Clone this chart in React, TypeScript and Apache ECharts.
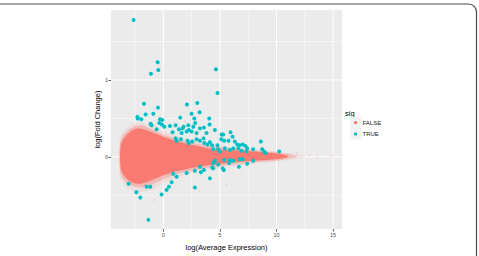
import React, { useEffect, useRef } from "react";
import * as echarts from "echarts";

// TRUE (significant) points: [log(Average Expression), log(Fold Change)]
const trueX = [
  -2.62, -0.5, -0.44, -1.09, 4.65, 4.79, -1.71, -0.47, 2.09, 3.0, 2.5, 3.21, -2.29, -2.26, -1.94, -1.56,
  -0.88, -0.29, -0.09, 1.5, 2.74, 4.06, -1.12, -1.03, -0.35, -0.12, 0.09, -0.59, 0.59, 1.09, 1.38, 1.71,
  1.79, 2.26, 2.21, 2.65, 2.82, 3.24, 3.59, 4.09, 4.56, 0.82, 1.62, 2.06, 2.5, 2.94, 3.82, 1.09, 1.18,
  1.56, 2.15, 2.24, 2.56, 2.94, 3.24, 3.56, 3.62, 3.91, 4.12, 4.32, 4.79, 4.41, 5.15, 5.29, 5.94, 5.12,
  5.38, 5.76, 6.12, 6.32, 6.53, 6.76, 7.03, 7.26, 7.41, 4.85, 5.0, 5.44, 5.88, 6.18, 6.62, 6.91, 7.35,
  7.94, 8.62, 8.74, 8.91, 9.03, 10.24, 5.38, 5.88, 6.18, 6.76, 7.0, 7.41, 7.94, 4.41, 4.56, 4.85, 5.24,
  5.35, 5.82, 6.68, 3.24, 3.59, 3.32, 4.32, 4.41, 4.12, 2.06, 2.79, 2.79, 0.88, 1.18, 0.74, 0.5, 0.29,
  -0.15, -3.06, -2.38, -2.03, -1.47, -1.15, -1.32,
];
const trueY = [
  1.78, 1.23, 1.13, 1.08, 1.14, 0.83, 0.69, 0.64, 0.68, 0.7, 0.56, 0.58, 0.52, 0.5, 0.49, 0.55,
  0.56, 0.49, 0.48, 0.51, 0.5, 0.5, 0.43, 0.41, 0.44, 0.42, 0.39, 0.36, 0.4, 0.41, 0.36, 0.37,
  0.39, 0.35, 0.41, 0.39, 0.44, 0.37, 0.38, 0.42, 0.35, 0.32, 0.31, 0.33, 0.33, 0.31, 0.31, 0.24, 0.21,
  0.23, 0.21, 0.18, 0.2, 0.23, 0.21, 0.24, 0.18, 0.16, 0.19, 0.15, 0.15, 0.1, 0.29, 0.29, 0.32, 0.23,
  0.21, 0.21, 0.26, 0.2, 0.16, 0.15, 0.16, 0.14, 0.11, 0.1, 0.07, 0.11, 0.09, 0.11, 0.11, 0.08, 0.07,
  0.1, 0.2, 0.1, 0.07, 0.05, 0.07, -0.04, -0.04, -0.05, -0.03, -0.03, -0.09, -0.05, -0.08, -0.05, -0.1, -0.15,
  -0.17, -0.08, -0.13, -0.13, -0.17, -0.2, -0.14, -0.15, -0.28, -0.21, -0.18, -0.4, -0.22, -0.26, -0.33, -0.39, -0.43,
  -0.49, -0.35, -0.46, -0.53, -0.39, -0.39, -0.82,
];

// FALSE cloud envelopes (dense core, soft edge, faint fringe)
const coreX = [-3.82, -3.75, -3.55, -3.2, -2.8, -2.4, -2.0, -1.5, -1.0, 0, 1, 2, 3, 4, 5, 6, 7, 8, 9, 10, 10.6, 11.0];
const coreUpper = [0.06, 0.16, 0.23, 0.29, 0.34, 0.37, 0.37, 0.35, 0.32, 0.26, 0.21, 0.17, 0.14, 0.11, 0.09, 0.085, 0.08, 0.07, 0.06, 0.045, 0.03, 0.01];
const coreLower = [-0.06, -0.16, -0.23, -0.29, -0.33, -0.35, -0.35, -0.33, -0.3, -0.24, -0.19, -0.16, -0.13, -0.11, -0.09, -0.07, -0.06, -0.05, -0.04, -0.03, -0.02, -0.005];

const edgeX = [-3.88, -3.8, -3.55, -3.1, -2.5, -1.8, -1.0, 0, 1, 2, 4, 6, 8, 10, 11.2, 11.8];
const edgeUpper = [0.06, 0.2, 0.28, 0.35, 0.4, 0.41, 0.36, 0.29, 0.24, 0.2, 0.14, 0.11, 0.085, 0.06, 0.03, 0.01];
const edgeLower = [-0.06, -0.21, -0.29, -0.35, -0.39, -0.4, -0.36, -0.29, -0.23, -0.19, -0.14, -0.1, -0.07, -0.05, -0.02, -0.005];

const fringeX = [-3.95, -3.85, -3.4, -2.8, -2.0, -1.0, 0, 1, 2, 4, 6, 8, 10, 11.5, 12.5];
const fringeUpper = [0.05, 0.25, 0.36, 0.43, 0.45, 0.41, 0.34, 0.28, 0.24, 0.17, 0.13, 0.1, 0.07, 0.04, 0.015];
const fringeLower = [-0.05, -0.27, -0.38, -0.44, -0.46, -0.43, -0.35, -0.28, -0.23, -0.17, -0.12, -0.09, -0.06, -0.03, -0.01];

// A few faint FALSE outliers
const falseOutX = [12.9, 13.6, 14.9, 11.8, 3.2, 5.6, -0.8, 1.9];
const falseOutY = [0.02, -0.01, 0.01, 0.05, -0.44, -0.36, -0.56, 0.46];

// axis ticks & grid
const xTicks = [0, 5, 10, 15];
const xMinor = [-2.5, 2.5, 7.5, 12.5];
const yTicks = [0, 1];
const yMinor = [-0.5, 0.5, 1.5];

const PINK = "#F8766D";
const TEAL = "#00BFC4";
const FONT = "Liberation Sans, Arial, sans-serif";

function envelope(xs: number[], up: number[], lo: number[], color: string, opacity: number, z: number) {
  return {
    type: "custom",
    silent: true,
    z,
    clip: true,
    data: xs.map((x, i) => [x, up[i], lo[i]]),
    encode: { x: 0, y: [1, 2] },
    renderItem: (params: any, api: any) => {
      if (params.dataIndex !== 0) return null;
      const top = xs.map((x, i) => api.coord([x, up[i]]));
      const bot = xs.map((x, i) => api.coord([x, lo[i]])).reverse();
      return {
        type: "polygon",
        shape: { points: top.concat(bot) },
        style: { fill: color, opacity },
      };
    },
  };
}

function gridLines(values: number[], vertical: boolean, width: number) {
  return {
    type: "custom",
    silent: true,
    z: 0,
    data: values.map((v) => (vertical ? [v, 0] : [0, v])),
    encode: { x: 0, y: 1 },
    renderItem: (params: any, api: any) => {
      const cs = params.coordSys;
      const p = api.coord([api.value(0), api.value(1)]);
      const shape = vertical
        ? { x1: p[0], y1: cs.y, x2: p[0], y2: cs.y + cs.height }
        : { x1: cs.x, y1: p[1], x2: cs.x + cs.width, y2: p[1] };
      return { type: "line", shape, style: { stroke: "#FFFFFF", lineWidth: width } };
    },
  };
}

export default function App() {
  const ref = useRef<HTMLDivElement>(null);
  useEffect(() => {
    if (!ref.current) return;
    const chart = echarts.init(ref.current, null, { renderer: "svg" });
    chart.setOption({
      animation: false,
      backgroundColor: "#FFFFFF",
      textStyle: { fontFamily: FONT },
      grid: {
        left: 111,
        top: 10,
        width: 231,
        height: 227.5,
        show: true,
        backgroundColor: "#EBEBEB",
        borderWidth: 0,
        containLabel: false,
      },
      xAxis: {
        type: "value",
        min: -4.62,
        max: 15.79,
        name: "log(Average Expression)",
        nameLocation: "middle",
        nameGap: 9,
        nameTextStyle: { fontSize: 7.5, color: "#000", fontFamily: FONT },
        axisLine: { show: false, onZero: false },
        splitLine: { show: false },
        axisTick: { show: true, length: 2.5, lineStyle: { color: "#333", width: 0.8 }, customValues: xTicks },
        axisLabel: { fontSize: 5.5, color: "#4D4D4D", margin: 3, customValues: xTicks, fontFamily: FONT },
      },
      yAxis: {
        type: "value",
        min: -0.94,
        max: 1.91,
        name: "log(Fold Change)",
        nameLocation: "middle",
        nameGap: 8,
        nameTextStyle: { fontSize: 7.5, color: "#000", fontFamily: FONT },
        axisLine: { show: false, onZero: false },
        splitLine: { show: false },
        axisTick: { show: true, length: 2.5, lineStyle: { color: "#333", width: 0.8 }, customValues: yTicks },
        axisLabel: { fontSize: 5.5, color: "#4D4D4D", margin: 3, customValues: yTicks, fontFamily: FONT },
      },
      series: [
        gridLines(xMinor, true, 0.5),
        gridLines(yMinor, false, 0.5),
        gridLines(xTicks, true, 1),
        gridLines(yTicks, false, 1),
        envelope(fringeX, fringeUpper, fringeLower, PINK, 0.12, 2),
        envelope(edgeX, edgeUpper, edgeLower, PINK, 0.35, 3),
        envelope(coreX, coreUpper, coreLower, PINK, 0.95, 4),
        {
          type: "scatter",
          name: "FALSE",
          z: 2,
          silent: true,
          symbolSize: 2.5,
          itemStyle: { color: PINK, opacity: 0.2 },
          data: falseOutX.map((x, i) => [x, falseOutY[i]]),
        },
        {
          type: "scatter",
          name: "TRUE",
          z: 5,
          silent: true,
          symbolSize: 4,
          itemStyle: { color: TEAL, opacity: 1 },
          data: trueX.map((x, i) => [x, trueY[i]]),
        },
      ],
      graphic: [
        {
          type: "rect",
          silent: true,
          shape: { x: -20, y: 4, width: 496.5, height: 300, r: 8 },
          style: { fill: "none", stroke: "#4A4A4A", lineWidth: 1.2 },
        },
        {
          type: "text",
          left: 345,
          top: 109,
          style: { text: "sig", fontSize: 7.5, fill: "#000", fontFamily: FONT },
        },
        {
          type: "rect",
          silent: true,
          shape: { x: 350, y: 117, width: 11, height: 22.5 },
          style: { fill: "#F2F2F2" },
        },
        { type: "circle", silent: true, shape: { cx: 355.5, cy: 122.7, r: 1.6 }, style: { fill: PINK } },
        { type: "circle", silent: true, shape: { cx: 355.5, cy: 134, r: 1.6 }, style: { fill: TEAL } },
        {
          type: "text",
          x: 362.5,
          y: 122.7,
          style: { text: "FALSE", fontSize: 6, fill: "#222", fontFamily: FONT, verticalAlign: "middle" },
        },
        {
          type: "text",
          x: 362.5,
          y: 134,
          style: { text: "TRUE", fontSize: 6, fill: "#222", fontFamily: FONT, verticalAlign: "middle" },
        },
      ],
    });
    return () => chart.dispose();
  }, []);
  return (
    <div
      ref={ref}
      style={{ position: "fixed", left: 0, top: 0, width: 479, height: 256 }}
    />
  );
}
